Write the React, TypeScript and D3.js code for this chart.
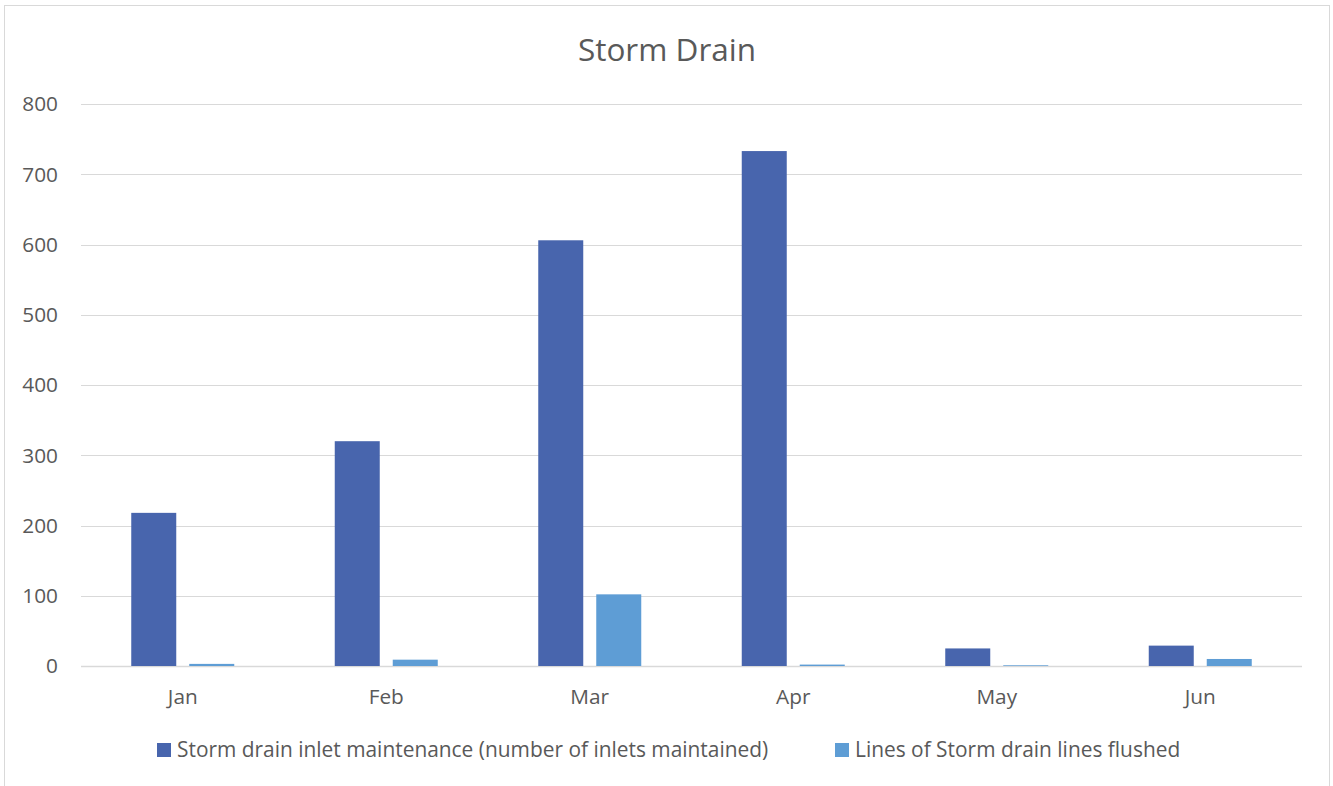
import * as d3 from 'd3';

const months = ['Jan', 'Feb', 'Mar', 'Apr', 'May', 'Jun'];
const inletsMaintained = [218, 320, 606, 733, 25, 29];
const linesFlushed = [3, 9, 102, 2, 1, 10];
const yTicks = [0, 100, 200, 300, 400, 500, 600, 700, 800];

const SERIES = [
  { name: 'Storm drain inlet maintenance (number of inlets maintained)', values: inletsMaintained, color: '#4865ad' },
  { name: 'Lines of Storm drain lines flushed', values: linesFlushed, color: '#5e9dd5' },
];

const W = 1333;
const H = 786;
const PLOT = { left: 81, right: 1302, top: 104, bottom: 666 };
const FONT = '"Open Sans", "Segoe UI", sans-serif';
const TEXT = '#595959';
const GRID = '#d9d9d9';

export default function App() {
  const x = d3.scaleBand().domain(months).range([PLOT.left, PLOT.right]);
  const y = d3.scaleLinear().domain([0, 800]).range([PLOT.bottom, PLOT.top]);
  const barW = 45;
  const offsets = [-29, 29];

  return (
    <div style={{ position: 'fixed', left: 0, top: 0 }}>
      <svg width={W} height={H} style={{ display: 'block', fontFamily: FONT }}>
        <rect x={0} y={0} width={W} height={H} fill="#fff" />
        <rect x={4.5} y={5.5} width={1325} height={H + 10} fill="#fff" stroke={GRID} strokeWidth={1} />

        <text x={667} y={50} dy="0.35em" textAnchor="middle" fontSize={31.5} fill={TEXT}>Storm Drain</text>

        {/* gridlines */}
        {yTicks.map(t => (
          <g key={t}>
            <line x1={PLOT.left} x2={PLOT.right} y1={Math.round(y(t)) + 0.5} y2={Math.round(y(t)) + 0.5}
              stroke={GRID} strokeWidth={t === 0 ? 1.5 : 1} />
            <text x={58} y={y(t)} dy="0.35em" textAnchor="end" fontSize={20.8} fill={TEXT}>{t}</text>
          </g>
        ))}

        {/* bars */}
        {SERIES.map((s, si) => (
          <g key={s.name}>
            {s.values.map((v, i) => {
              const cx = (x(months[i]) ?? 0) + x.bandwidth() / 2 + offsets[si];
              return (
                <rect key={months[i]} x={cx - barW / 2} y={y(v)} width={barW}
                  height={Math.max(0, y(0) - y(v))} fill={s.color} />
              );
            })}
          </g>
        ))}

        {/* category labels */}
        {months.map(m => (
          <text key={m} x={(x(m) ?? 0) + x.bandwidth() / 2} y={697} dy="0.35em" textAnchor="middle"
            fontSize={20.8} fill={TEXT}>{m}</text>
        ))}

        {/* legend */}
        {SERIES.map((s, si) => {
          const lx = si === 0 ? 157 : 835;
          return (
            <g key={s.name} transform={`translate(${lx},750)`}>
              <rect x={0} y={-7} width={14} height={14} fill={s.color} />
              <text x={20} y={0} dy="0.35em" fontSize={20.9} fill={TEXT}>{s.name}</text>
            </g>
          );
        })}
      </svg>
    </div>
  );
}
